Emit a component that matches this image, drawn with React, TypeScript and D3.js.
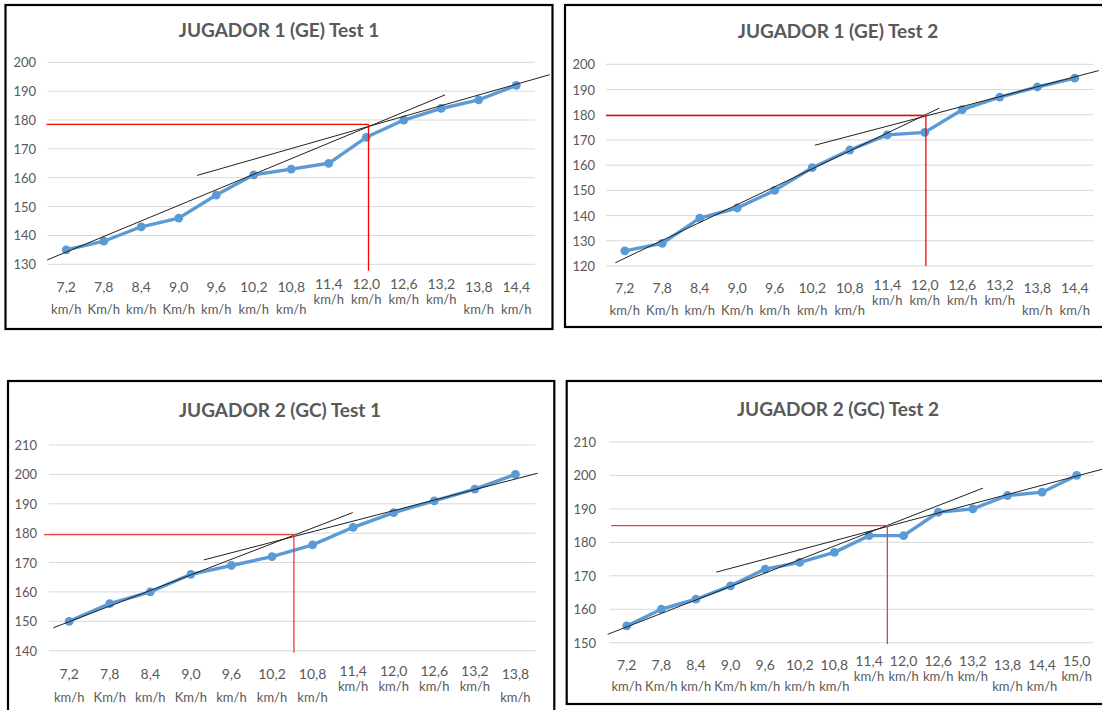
import React from "react";
import * as d3 from "d3";

// ---------- DATA ----------
const speedsA = ["7,2", "7,8", "8,4", "9,0", "9,6", "10,2", "10,8", "11,4", "12,0", "12,6", "13,2", "13,8", "14,4"];
const unitsA = ["km/h", "Km/h", "km/h", "Km/h", "km/h", "km/h", "km/h", "km/h", "km/h", "km/h", "km/h", "km/h", "km/h"];
const speedsB = ["7,2", "7,8", "8,4", "9,0", "9,6", "10,2", "10,8", "11,4", "12,0", "12,6", "13,2", "13,8"];
const unitsB = ["km/h", "Km/h", "km/h", "Km/h", "km/h", "km/h", "km/h", "km/h", "km/h", "km/h", "km/h", "km/h"];
const speedsC = ["7,2", "7,8", "8,4", "9,0", "9,6", "10,2", "10,8", "11,4", "12,0", "12,6", "13,2", "13,8", "14,4", "15,0"];
const unitsC = ["km/h", "Km/h", "km/h", "Km/h", "km/h", "km/h", "km/h", "km/h", "km/h", "km/h", "km/h", "km/h", "km/h", "km/h"];

const j1t1 = [135, 138, 143, 146, 154, 161, 163, 165, 174, 180, 184, 187, 192];
const j1t2 = [126, 129, 139, 143, 150, 159, 166, 172, 173, 182, 187, 191, 194.5];
const j2t1 = [150, 156, 160, 166, 169, 172, 176, 182, 187, 191, 195, 200];
const j2t2 = [155, 160, 163, 167, 172, 174, 177, 182, 182, 189, 190, 194, 195, 200];

const ticks1 = [130, 140, 150, 160, 170, 180, 190, 200];
const ticks2 = [120, 130, 140, 150, 160, 170, 180, 190, 200];
const ticks3 = [140, 150, 160, 170, 180, 190, 200, 210];
const ticks4 = [150, 160, 170, 180, 190, 200, 210];

// trend lines: [startIndex, startValue, endIndex, endValue]
const trends1 = [[-0.51, 131.5, 10.1, 188.7], [3.49, 160.8, 12.89, 195.7]];
const trends2 = [[-0.25, 121.3, 8.39, 182.6], [5.07, 167.9, 12.64, 197.5]];
const trends3 = [[-0.39, 147.8, 6.99, 187.0], [3.32, 170.9, 11.55, 200.4]];
const trends4 = [[-0.55, 152.5, 10.29, 196.2], [2.59, 171.1, 13.75, 201.9]];

// threshold marker: [startIndex, index, value, bottomValue]
const thr1 = [-0.53, 8.06, 178.5, 127.8];
const thr2 = [-0.5, 8.03, 179.7, 120];
const thr3 = [-0.62, 5.54, 179.5, 139.3];
const thr4 = [-0.45, 7.53, 185, 149.6];

const raisedA = ["11,4", "12,0", "12,6", "13,2"];
const raisedC = ["11,4", "12,0", "12,6", "13,2", "15,0"];

const titles = ["JUGADOR 1 (GE) Test 1", "JUGADOR 1 (GE) Test 2", "JUGADOR 2 (GC) Test 1", "JUGADOR 2 (GC) Test 2"];

// ---------- LAYOUT ----------
const layouts = [
  { box: [5.5, 5, 552.5, 329], px: [47.5, 535], py: [264.3, 62.3], title: [279, 29], yl: 36, nrm: [286, 309], rse: [283, 299], red: "#ff0000" },
  { box: [565, 5, 1112, 327], px: [606, 1093.5], py: [266, 64.3], title: [838, 30], yl: 595, nrm: [287, 310], rse: [284, 300], red: "#ff0000" },
  { box: [8, 381, 554.3, 720], px: [48.9, 535.7], py: [650.7, 445], title: [280, 409], yl: 37, nrm: [673.5, 697], rse: [670, 686], red: "#f03c3c" },
  { box: [566.7, 381, 1112, 704], px: [609.4, 1094], py: [642.7, 442], title: [838, 408], yl: 596, nrm: [664, 686], rse: [660.7, 676], red: "#f03c3c" },
];

const panels = [
  { cats: speedsA, units: unitsA, values: j1t1, ticks: ticks1, trends: trends1, thr: thr1, raised: raisedA },
  { cats: speedsA, units: unitsA, values: j1t2, ticks: ticks2, trends: trends2, thr: thr2, raised: raisedA },
  { cats: speedsB, units: unitsB, values: j2t1, ticks: ticks3, trends: trends3, thr: thr3, raised: raisedA },
  { cats: speedsC, units: unitsC, values: j2t2, ticks: ticks4, trends: trends4, thr: thr4, raised: raisedC },
];

const FONT = "Lato, 'Open Sans', sans-serif";
const GREY = "#595959";

function Panel({ p, L, title }: any) {
  const n = p.cats.length;
  const x = d3.scaleLinear().domain([-0.5, n - 0.5]).range(L.px);
  const y = d3.scaleLinear().domain([p.ticks[0], p.ticks[p.ticks.length - 1]]).range(L.py);
  const line = d3.line<number>().x((_, i) => x(i)).y((d) => y(d));
  const [bx0, by0, bx1, by1] = L.box;
  const [t0, ti, tv, tb] = p.thr;
  return (
    <g>
      <rect x={bx0} y={by0} width={bx1 - bx0} height={by1 - by0} fill="#fff" stroke="#000" strokeWidth={2.2} />
      <text x={L.title[0]} y={L.title[1]} textAnchor="middle" dominantBaseline="central" fontFamily={FONT} fontWeight={700} fontSize={19} fill={GREY}>
        {title}
      </text>
      {p.ticks.map((t: number) => (
        <g key={t}>
          <line x1={L.px[0]} x2={L.px[1]} y1={y(t)} y2={y(t)} stroke="#d9d9d9" strokeWidth={1} />
          <text x={L.yl} y={y(t)} textAnchor="end" dominantBaseline="central" fontFamily={FONT} fontSize={13} fill={GREY}>
            {t}
          </text>
        </g>
      ))}
      {p.cats.map((c: string, i: number) => {
        const r = p.raised.includes(c);
        const pos = r ? L.rse : L.nrm;
        return (
          <g key={c} fontFamily={FONT} fontSize={13} fill={GREY} textAnchor="middle">
            <text x={x(i)} y={pos[0]} dominantBaseline="central" fontSize={14}>{c}</text>
            <text x={x(i)} y={pos[1]} dominantBaseline="central">{p.units[i]}</text>
          </g>
        );
      })}
      <path d={line(p.values) || ""} fill="none" stroke="#5b9bd5" strokeWidth={3.4} strokeLinejoin="round" />
      {p.values.map((v: number, i: number) => (
        <circle key={i} cx={x(i)} cy={y(v)} r={4.4} fill="#5b9bd5" />
      ))}
      {p.trends.map((t: number[], k: number) => (
        <line key={k} x1={x(t[0])} y1={y(t[1])} x2={x(t[2])} y2={y(t[3])} stroke="#222" strokeWidth={1} />
      ))}
      <line x1={x(t0)} x2={x(ti)} y1={y(tv)} y2={y(tv)} stroke={L.red} strokeWidth={1.3} />
      <line x1={x(ti)} x2={x(ti)} y1={y(tv)} y2={y(tb)} stroke={L.red} strokeWidth={1.3} />
    </g>
  );
}

export default function App() {
  return (
    <svg width={1102} height={710} style={{ position: "absolute", left: 0, top: 0, background: "#fff" }}>
      <rect width={1102} height={710} fill="#fff" />
      {panels.map((p, k) => (
        <Panel key={k} p={p} L={layouts[k]} title={titles[k]} />
      ))}
    </svg>
  );
}
